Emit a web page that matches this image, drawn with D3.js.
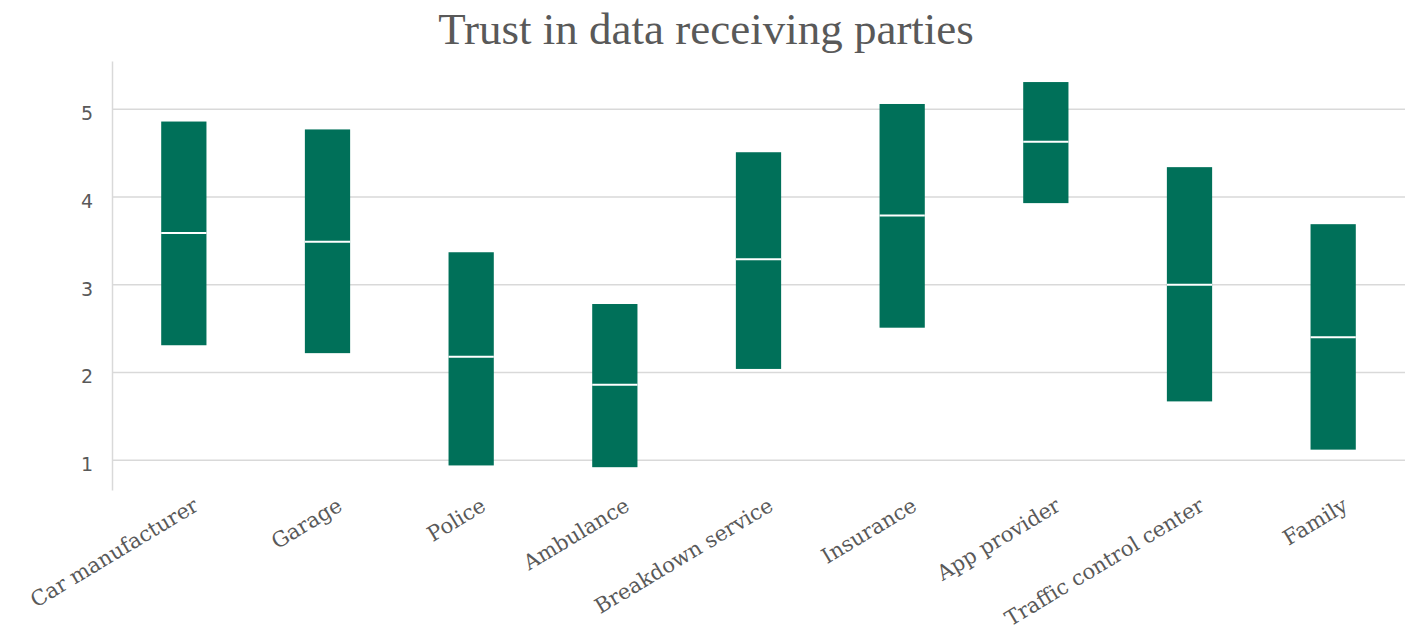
<!DOCTYPE html>
<html>
<head>
<meta charset="utf-8">
<script src="https://cdn.jsdelivr.net/npm/d3@7"></script>
<style>
  body { margin: 0; background: #fff; }
  svg { display: block; }
</style>
</head>
<body>
<div id="chart"></div>
<script>
const categories = ['Car manufacturer', 'Garage', 'Police', 'Ambulance', 'Breakdown service',
    'Insurance', 'App provider', 'Traffic control center', 'Family'];
const lowValues = [2.31, 2.22, 0.94, 0.92, 2.04, 2.51, 3.93, 1.67, 1.12];
const medianValues = [3.59, 3.49, 2.18, 1.86, 3.29, 3.79, 4.63, 3.0, 2.40];
const highValues = [4.86, 4.77, 3.37, 2.78, 4.51, 5.06, 5.31, 4.34, 3.69];
const yTicks = [1, 2, 3, 4, 5];

const width = 1410;
const height = 633;
const margin = { top: 61, right: 5, bottom: 143, left: 112 };

const data = categories.map((c, i) => ({
    name: c,
    low: lowValues[i],
    mid: medianValues[i],
    high: highValues[i]
}));

const svg = d3.select('#chart')
    .append('svg')
    .attr('width', width)
    .attr('height', height);

const x = d3.scaleBand()
    .domain(categories)
    .range([margin.left, width - margin.right])
    .paddingInner(0.685)
    .paddingOuter(0.3425);

const y = d3.scaleLinear()
    .domain([0.66, 5.55])
    .range([height - margin.bottom, margin.top]);

// title
svg.append('text')
    .attr('x', 706)
    .attr('y', 44)
    .attr('text-anchor', 'middle')
    .style('font-family', '"Liberation Serif", serif')
    .style('font-size', '45px')
    .style('fill', '#595959')
    .text('Trust in data receiving parties');

// gridlines
svg.append('g')
    .selectAll('line')
    .data(yTicks)
    .enter()
    .append('line')
    .attr('x1', margin.left)
    .attr('x2', width - margin.right)
    .attr('y1', d => y(d))
    .attr('y2', d => y(d))
    .attr('stroke', '#d9d9d9')
    .attr('stroke-width', 1.5);

// y axis
const yAxis = d3.axisLeft(y)
    .tickValues(yTicks)
    .tickSize(0)
    .tickPadding(19)
    .tickFormat(d3.format('d'));

const yg = svg.append('g')
    .attr('transform', `translate(${margin.left},0)`)
    .call(yAxis);
yg.select('.domain').attr('stroke', '#d9d9d9').attr('stroke-width', 1.5);
yg.selectAll('text')
    .attr('dy', '0.55em')
    .style('font-family', '"DejaVu Sans", sans-serif')
    .style('font-size', '19px')
    .style('fill', '#595959');

// range bars
const bars = svg.append('g');
bars.selectAll('rect')
    .data(data)
    .enter()
    .append('rect')
    .attr('x', d => x(d.name))
    .attr('y', d => y(d.high))
    .attr('width', x.bandwidth())
    .attr('height', d => y(d.low) - y(d.high))
    .attr('fill', '#007059');

bars.selectAll('line')
    .data(data)
    .enter()
    .append('line')
    .attr('x1', d => x(d.name))
    .attr('x2', d => x(d.name) + x.bandwidth())
    .attr('y1', d => y(d.mid))
    .attr('y2', d => y(d.mid))
    .attr('stroke', '#fff')
    .attr('stroke-width', 2);

// x labels
const xAxis = d3.axisBottom(x).tickSize(0).tickPadding(0);
const xg = svg.append('g')
    .attr('transform', `translate(0,${height - margin.bottom})`)
    .call(xAxis);
xg.select('.domain').remove();
xg.selectAll('text')
    .attr('text-anchor', 'end')
    .attr('dy', '0.75em')
    .attr('transform', 'translate(8,6) rotate(-31)')
    .style('font-family', '"DejaVu Serif", serif')
    .style('font-size', '21px')
    .style('fill', '#595959');
</script>
</body>
</html>
